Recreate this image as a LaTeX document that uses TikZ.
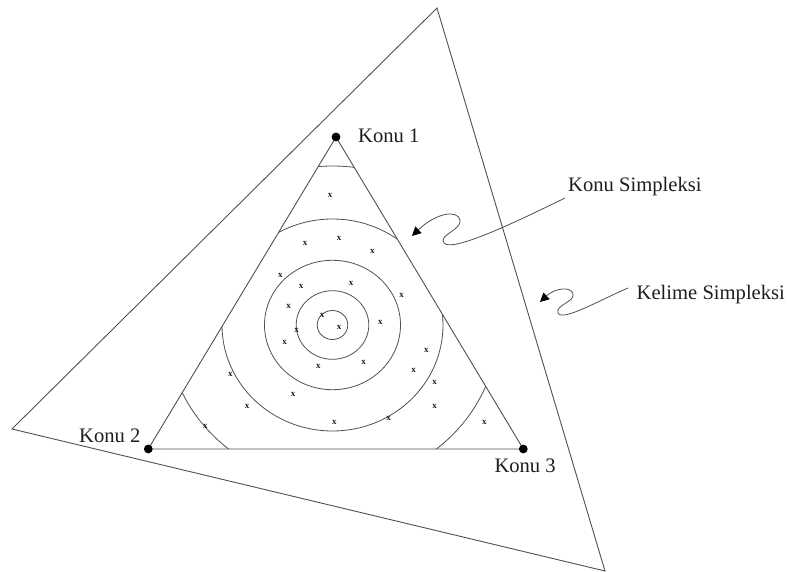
\documentclass[tikz,border=0pt]{standalone}
\usepackage{fontspec}
\setmainfont{Liberation Serif}
\usetikzlibrary{arrows.meta}
\definecolor{ink}{HTML}{1E1E1E}
\definecolor{edge}{HTML}{505050}
\newcommand{\twenty}{\fontsize{20.6}{24}\selectfont}
\tikzset{
 every node/.append style={text=ink},
 simplex/.style={draw=edge,line width=.9pt,line join=miter},
 ring/.style={draw=edge,line width=.8pt},
 vertexdot/.style={circle,fill=black,inner sep=0pt,minimum size=8.8pt},
 tag/.style={font=\twenty,inner sep=0pt,anchor=base west},
 xmark/.style={font=\fontsize{9}{9}\selectfont\bfseries,inner sep=0pt,text=ink},
 squiggle/.style={draw=edge,line width=.8pt,
   -{Triangle[length=9pt,width=9pt,fill=black,color=black]}},
}

\begin{document}
\begin{tikzpicture}[x=1pt,y=-1pt]
\useasboundingbox (0,0) rectangle (787,572);

% word simplex
\coordinate (wtop) at (437,8);
\coordinate (wleft) at (12,429);
\coordinate (wright) at (605,571);
\draw[simplex] (wtop) -- (wleft) -- (wright) -- cycle;

% topic simplex
\coordinate (k1) at (336,137);
\coordinate (k2) at (148.3,449);
\coordinate (k3) at (523.3,449);
\draw[simplex] (k1) -- (k2) -- (k3) -- cycle;

\begin{scope}
\clip (k1) -- (k2) -- (k3) -- cycle;
\coordinate (mid) at (332.5,325);
\foreach \rx/\ry in {15.3/14.5,36.3/34.3,68/64.7,110.5/106,166/159}
  \draw[ring] (mid) ellipse [x radius=\rx pt,y radius=\ry pt];
\end{scope}

\foreach \p [count=\i] in {(330,195),(305,243.3),(339,238.3),(372.3,251.7),(280.3,275),
  (301,286.7),(351,283.3),(401.7,295),(288.7,306.7),(322,315),(339,327.3),(296.7,330.7),
  (380.3,322.3),(284.7,342.3),(426.3,350.7),(318.3,366.7),(363.7,362),(230.3,374.3),
  (413.7,370.7),(434.7,382.3),(293,394.3),(247,406),(434.7,406),(388.7,418.7),
  (334.3,422.7),(205.3,426),(484.3,422.7)}
  \node[xmark] (mark\i) at \p {x};

\node[vertexdot] (dot1) at (k1) {};
\node[vertexdot] (dot2) at (k2) {};
\node[vertexdot] (dot3) at (k3) {};

\node[tag] (konu1) at (358,142.7) {Konu 1};
\node[tag] (konu2) at (79,442.7) {Konu 2};
\node[tag] (konu3) at (494.3,472.7) {Konu 3};
\node[tag] (konusimp) at (568,191.5) {Konu Simpleksi};
\node[tag] (kelimesimp) at (636.5,299.3) {Kelime Simpleksi};

% squiggly pointers
\coordinate (kstart) at (565,198);
\coordinate (ktip) at (412,236);
\draw[squiggle] (kstart) .. controls (520,220) and (452,253) .. (444,243)
  .. controls (438,235) and (462,230) .. (460,220)
  .. controls (458,210) and (437,212) .. (ktip);

\coordinate (wstart) at (628,288);
\coordinate (wtip) at (540,302);
\draw[squiggle] (wstart) .. controls (600,300) and (562,322) .. (558,313)
  .. controls (555,305) and (575,302) .. (573,294)
  .. controls (571,286) and (555,288) .. (wtip);
\end{tikzpicture}
\end{document}
